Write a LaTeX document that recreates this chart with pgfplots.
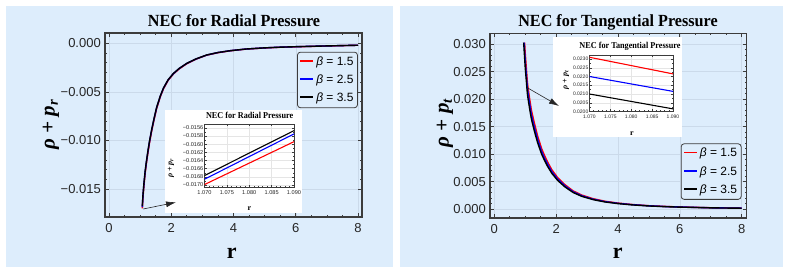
\documentclass[border=0pt]{standalone}
\usepackage{pgfplots}
\usepackage{pgfplotstable}
\pgfplotsset{compat=1.18}
\usepackage{fontspec}
\setmainfont{Liberation Sans}
\newfontfamily\serif{Liberation Serif}
\usetikzlibrary{arrows.meta}
\definecolor{bgc}{RGB}{221,237,252}
\definecolor{framec}{RGB}{60,60,60}
\definecolor{gridc}{RGB}{203,218,234}

% Radial: rho + p_r
\pgfplotstableread{
r black blue red
1.07 -0.01677 -0.01686 -0.01699
1.09 -0.01567 -0.01575 -0.01594
1.12 -0.01450 -0.01457 -0.01477
1.16 -0.01320 -0.01327 -0.01345
1.20 -0.01220 -0.01226 -0.01243
1.25 -0.01110 -0.01116 -0.01131
1.30 -0.01010 -0.01015 -0.01029
1.37 -0.00890 -0.00894 -0.00907
1.45 -0.00770 -0.00774 -0.00785
1.53 -0.00660 -0.00663 -0.00673
1.65 -0.00540 -0.00543 -0.00550
1.75 -0.00460 -0.00462 -0.00469
1.90 -0.00375 -0.00377 -0.00382
2.07 -0.00310 -0.00312 -0.00316
2.25 -0.00260 -0.00261 -0.00265
2.50 -0.00206 -0.00207 -0.00210
2.80 -0.00160 -0.00161 -0.00163
3.14 -0.00120 -0.00121 -0.00122
3.50 -0.00095 -0.00095 -0.00097
3.90 -0.00076 -0.00076 -0.00077
4.40 -0.00059 -0.00059 -0.00060
5.00 -0.00047 -0.00047 -0.00048
5.50 -0.00040 -0.00040 -0.00041
6.00 -0.00035 -0.00035 -0.00036
7.00 -0.00027 -0.00027 -0.00028
8.00 -0.00020 -0.00020 -0.00020
}\radtab

% Tangential: rho + p_t
\pgfplotstableread{
r y
0.95 0.0303
1.00 0.0258
1.07 0.0210
1.09 0.02015
1.15 0.0180
1.20 0.0164
1.26 0.0150
1.32 0.0137
1.40 0.0121
1.48 0.0108
1.53 0.0100
1.62 0.0089
1.72 0.0078
1.86 0.0065
2.05 0.0052
2.29 0.0040
2.55 0.0030
2.83 0.0023
3.20 0.0017
3.58 0.00128
4.00 0.00098
4.45 0.00075
5.00 0.00055
5.50 0.00043
6.00 0.00034
7.00 0.00021
8.00 0.00014
}\tanblack

\pgfplotstableread{
r y
0.965 0.0303
1.00 0.0270
1.07 0.0220
1.09 0.02115
1.15 0.0189
1.20 0.0172
1.26 0.0157
1.32 0.0144
1.40 0.0127
1.48 0.0113
1.53 0.0105
1.62 0.0093
1.72 0.0082
1.86 0.0068
2.05 0.00545
2.29 0.0042
2.55 0.00314
2.83 0.00241
3.20 0.00178
3.58 0.00134
4.00 0.00103
4.45 0.00079
5.00 0.00058
5.50 0.00045
6.00 0.00036
7.00 0.00022
8.00 0.00015
}\tanblue

\pgfplotstableread{
r y
0.98 0.0303
1.00 0.0284
1.07 0.0231
1.09 0.02215
1.15 0.0198
1.20 0.0180
1.26 0.0165
1.32 0.0151
1.40 0.0133
1.48 0.0119
1.53 0.0110
1.62 0.0098
1.72 0.0086
1.86 0.00715
2.05 0.0057
2.29 0.0044
2.55 0.0033
2.83 0.00253
3.20 0.00187
3.58 0.00141
4.00 0.00108
4.45 0.00082
5.00 0.00060
5.50 0.00047
6.00 0.00037
7.00 0.00023
8.00 0.00015
}\tanred

\pgfplotsset{legend image code/.code={\draw[#1, line width=1.8pt] (0pt,0.9pt) -- (13pt,0.9pt);}}
\pgfplotsset{
  frameax/.style={
    scale only axis, anchor=south west,
    axis line style={framec, line width=1.4pt},
    every tick/.style={framec, line width=0.7pt},
    tick align=inside,
    major tick length=4pt, minor tick length=2pt,
    scaled ticks=false,
    ticklabel style={font=\fontsize{13}{15}\selectfont, text=black!85},
    yticklabel style={inner xsep=4pt},
    xticklabel style={inner ysep=6pt},
    xtick={0,2,4,6,8}, xticklabels={0,2,4,6,8}, minor x tick num=3,
    minor y tick num=4,
    grid=major, major grid style={gridc, line width=0.5pt},
    legend cell align=left,
    legend style={draw=framec, line width=0.8pt, rounded corners=3pt, fill=bgc,
      font=\fontsize{12}{14}\selectfont, inner xsep=2pt, inner ysep=2.5pt,
      row sep=4pt, anchor=north east},
    every axis plot/.append style={line width=1.4pt},
  },
  insetax/.style={
    scale only axis, anchor=south west,
    axis background/.style={fill=white},
    axis line style={framec, line width=0.6pt},
    every tick/.style={framec, line width=0.4pt},
    tick align=inside,
    major tick length=2pt, minor tick length=1pt,
    scaled ticks=false,
    ticklabel style={font=\fontsize{5.6}{6.5}\selectfont, text=black!85},
    yticklabel style={inner xsep=1pt},
    xticklabel style={inner ysep=3pt},
    xtick={1.07,1.075,1.08,1.085,1.09},
    xticklabels={1.070,1.075,1.080,1.085,1.090},
    minor x tick num=4, minor y tick num=1,
    grid=major, major grid style={black!10, line width=0.3pt},
    xmin=1.07, xmax=1.09,
    restrict x to domain=1.069:1.091,
    every axis plot/.append style={line width=1.1pt},
  },
}

\begin{document}
\begin{tikzpicture}[x=1pt,y=1pt]
\fill[white] (0,0) rectangle (790,273);
\fill[bgc] (6,6) rectangle (393,267);
\fill[bgc] (400,6) rectangle (783,267);

% ---------- Left main ----------
\begin{axis}[frameax, at={(105pt,56pt)}, width=257pt, height=184pt,
  xmin=-0.1285, xmax=8.1285, ymin=-0.01788, ymax=0.00106,
  ytick={-0.015,-0.010,-0.005,0}, yticklabels={−0.015,−0.010,−0.005,0.000},
  legend style={at={(0.984,0.898)}}]
\addplot[draw=red] table[x=r,y=red]{\radtab};
\addplot[draw=blue] table[x=r,y=blue]{\radtab};
\addplot[draw=black] table[x=r,y=black]{\radtab};
\legend{{\itshape β} = 1.5,{\itshape β} = 2.5,{\itshape β} = 3.5}
\end{axis}

% ---------- Right main ----------
\begin{axis}[frameax, at={(490pt,55pt)}, width=256.7pt, height=184.7pt,
  xmin=-0.139, xmax=8.162, ymin=-0.00164, ymax=0.0320,
  ytick={0,0.005,0.010,0.015,0.020,0.025,0.030},
  yticklabels={0.000,0.005,0.010,0.015,0.020,0.025,0.030},
  legend style={at={(0.980,0.404)}}]
\addplot[draw=red] table[x=r,y=y]{\tanred};
\addplot[draw=blue] table[x=r,y=y]{\tanblue};
\addplot[draw=black] table[x=r,y=y]{\tanblack};
\legend{{\itshape β} = 1.5,{\itshape β} = 2.5,{\itshape β} = 3.5}
\end{axis}

% ---------- Left inset ----------
\fill[white] (165,59.7) rectangle (301.7,163);
\begin{axis}[insetax, at={(204.5pt,86pt)}, width=89.5pt, height=62.5pt,
  ymin=-0.01705, ymax=-0.01552,
  ytick={-0.0170,-0.0168,-0.0166,-0.0164,-0.0162,-0.0160,-0.0158,-0.0156},
  yticklabels={−0.0170,−0.0168,−0.0166,−0.0164,−0.0162,−0.0160,−0.0158,−0.0156}]
\addplot[draw=red] table[x=r,y=red]{\radtab};
\addplot[draw=blue] table[x=r,y=blue]{\radtab};
\addplot[draw=black] table[x=r,y=black]{\radtab};
\end{axis}

% ---------- Right inset ----------
\fill[white] (552.7,136.3) rectangle (682,235.7);
\begin{axis}[insetax, at={(589.5pt,161.5pt)}, width=83.5pt, height=56.5pt,
  ticklabel style={font=\fontsize{5}{6}\selectfont},
  ymin=0.0200, ymax=0.02323,
  ytick={0.0200,0.0205,0.0210,0.0215,0.0220,0.0225,0.0230},
  yticklabels={0.0200,0.0205,0.0210,0.0215,0.0220,0.0225,0.0230}]
\addplot[draw=red] table[x=r,y=y]{\tanred};
\addplot[draw=blue] table[x=r,y=y]{\tanblue};
\addplot[draw=black] table[x=r,y=y]{\tanblack};
\end{axis}

% ---------- Arrows ----------
\draw[black!85, line width=0.6pt, -{Latex[length=10pt,width=6pt]}] (143.3,64) -- (176,70.7);
\draw[black!85, line width=0.6pt, -{Latex[length=10pt,width=6pt]}] (528.3,184.7) -- (559,167);

% ---------- Titles and labels ----------
\node[anchor=base, xscale=0.95, font=\serif\bfseries\fontsize{17}{19}\selectfont] at (234,246.3) {NEC for Radial Pressure};
\node[anchor=base, xscale=0.95, font=\serif\bfseries\fontsize{17}{19}\selectfont] at (618,246.3) {NEC for Tangential Pressure};
\node[font=\serif\bfseries\fontsize{22}{24}\selectfont] at (231.7,19.7) {r};
\node[font=\serif\bfseries\fontsize{22}{24}\selectfont] at (617.7,19.7) {r};
\node[rotate=90, font=\serif\bfseries\itshape\fontsize{21}{23}\selectfont] at (51,148.5) {ρ + p\textsubscript{r}};
\node[rotate=90, font=\serif\bfseries\itshape\fontsize{21}{23}\selectfont] at (445,150) {ρ + p\textsubscript{t}};

\node[anchor=base, xscale=0.91, font=\serif\bfseries\fontsize{9}{10}\selectfont] at (249.7,154) {NEC for Radial Pressure};
\node[anchor=base, xscale=0.91, font=\serif\bfseries\fontsize{9}{10}\selectfont] at (630,224.7) {NEC for Tangential Pressure};
\node[font=\serif\bfseries\fontsize{8}{9}\selectfont] at (249.3,64.7) {r};
\node[font=\serif\bfseries\fontsize{8}{9}\selectfont] at (632,139.7) {r};
\node[rotate=90, font=\serif\bfseries\itshape\fontsize{8}{9}\selectfont] at (171,105) {ρ + p\textsubscript{r}};
\node[rotate=90, font=\serif\bfseries\itshape\fontsize{8}{9}\selectfont] at (566,193) {ρ + p\textsubscript{t}};
\end{tikzpicture}
\end{document}
